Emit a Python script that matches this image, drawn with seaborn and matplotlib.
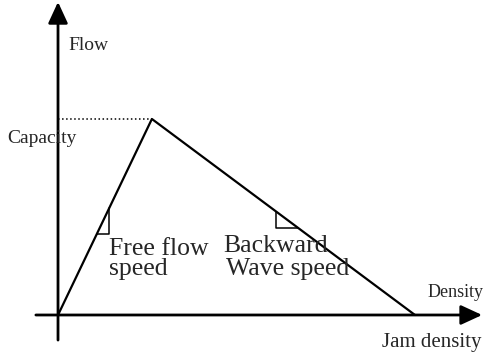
import seaborn as sns
import pandas as pd
import matplotlib.pyplot as plt

# triangular fundamental diagram (jam density = 1, capacity = 1)
density = [0.0, 0.263, 1.0]
flow = [0.0, 1.0, 0.0]
critical_density = density[1]
capacity = flow[1]

sns.set_style("white")
plt.rcParams["font.family"] = ["Liberation Serif", "DejaVu Serif"]

df = pd.DataFrame({"Density": density, "Flow": flow})

fig = plt.figure(figsize=(4.87, 3.59), dpi=100)
ax = fig.add_axes([0, 0, 1, 1])
ax.set_xlim(-0.1625, 1.2017)
ax.set_ylim(-0.2245, 1.607)
ax.axis("off")

# axes with arrow heads
arrow = dict(arrowstyle="-|>,head_length=1.3,head_width=0.6", mutation_scale=10,
             lw=2, color="black", shrinkA=0, shrinkB=0)
ax.annotate("", xy=(1.188, 0), xytext=(-0.062, 0), arrowprops=arrow)
ax.annotate("", xy=(0, 1.597), xytext=(0, -0.128), arrowprops=arrow)

# the triangle
sns.lineplot(data=df, x="Density", y="Flow", sort=False, color="black", lw=1.6,
             ax=ax, legend=False)

# capacity guide
ax.plot([0, critical_density], [capacity, capacity], ls=":", color="black", lw=1.1)

# right-angle markers on the two slopes
def free_q(d):
    return d * capacity / critical_density

def back_d(q):
    return 1.0 - q * (1.0 - critical_density) / capacity

d_hi = 0.143
q_lo = 0.413
ax.plot([q_lo * critical_density, d_hi, d_hi], [q_lo, q_lo, free_q(d_hi)],
        color="black", lw=1.1)

d_v = 0.611
q_lo2 = 0.444
ax.plot([d_v, d_v, back_d(q_lo2)],
        [capacity * (1 - d_v) / (1 - critical_density), q_lo2, q_lo2],
        color="black", lw=1.1)

# labels
ax.text(0.028, 1.352, "Flow", fontsize=14, va="baseline")
ax.text(-0.143, 0.878, "Capacity", fontsize=14, va="baseline")
ax.text(0.143, 0.306, "Free flow", fontsize=18.5, va="baseline")
ax.text(0.143, 0.204, "speed", fontsize=18.5, va="baseline")
ax.text(0.462, 0.321, "Backward", fontsize=18.5, va="baseline")
ax.text(0.47, 0.204, "Wave speed", fontsize=18.5, va="baseline")
ax.text(1.034, 0.092, "Density", fontsize=13, va="baseline")
ax.text(0.908, -0.163, "Jam density", fontsize=15, va="baseline")

fig.savefig("out.png", dpi=100)
plt.close(fig)
